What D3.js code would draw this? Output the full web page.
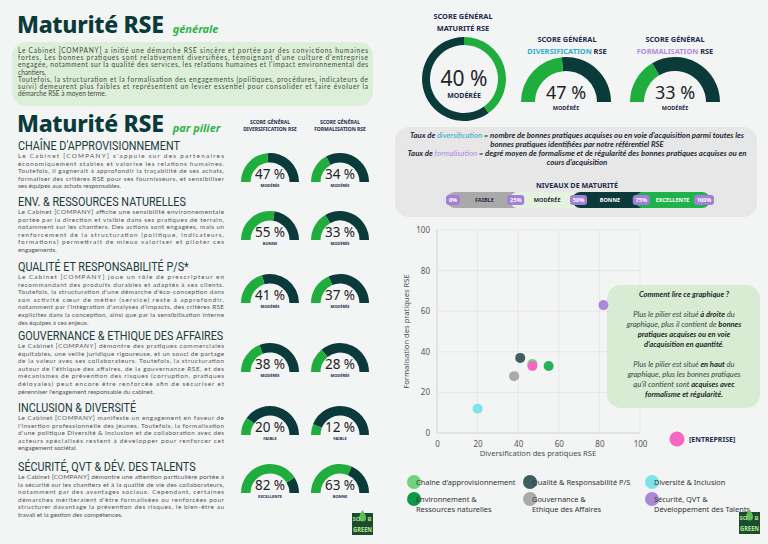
<!DOCTYPE html>
<html>
<head>
<meta charset="utf-8">
<script src="https://cdn.jsdelivr.net/npm/d3@7"></script>
<style>
  body { margin: 0; background: #f3f5f4; }
  svg { display: block; }
  .para { font-family: Lato, "Noto Sans", sans-serif; font-size: 6.4px; fill: #555; }
  .pillar { font-family: Roboto, "Noto Sans", sans-serif; font-size: 12px; font-weight: 400; fill: #1d3a3c; }
  .tick text { font-family: "Noto Sans", sans-serif; font-size: 8px; fill: #555; }
</style>
</head>
<body>
<div id="chart-area"></div>
<script>

// Data

let pillars = ["CHAÎNE D'APPROVISIONNEMENT", "ENV. & RESSOURCES NATURELLES", "QUALITÉ ET RESPONSABILITÉ P/S*",
  "GOUVERNANCE & ETHIQUE DES AFFAIRES", "INCLUSION & DIVERSITÉ", "SÉCURITÉ, QVT & DÉV. DES TALENTS"];
let diversification = [47, 55, 41, 38, 20, 82];
let formalisation = [34, 33, 37, 28, 12, 63];
let divLabels = ["MODÉRÉE", "BONNE", "MODÉRÉE", "MODÉRÉE", "FAIBLE", "EXCELLENTE"];
let formLabels = ["MODÉRÉE", "MODÉRÉE", "MODÉRÉE", "MODÉRÉE", "FAIBLE", "BONNE"];

let generalValues = [40, 47, 33];
let generalLabels = ["MODÉRÉE", "MODÉRÉE", "MODÉRÉE"];
let entreprise = [47, 33];

let legendNames = [["Chaîne d'approvisionnement"], ["Environnement &", "Ressources naturelles"],
  ["Qualité & Responsabilité P/S"], ["Gouvernance &", "Ethique des Affaires"],
  ["Diversité & Inclusion"], ["Sécurité, QVT &", "Développement des Talents"]];
let pointColors = ["#6fd37c", "#24b159", "#3f5d5f", "#a9aaa9", "#80e2ea", "#a98ad8"];
let legendColors = ["#6fd37c", "#0e9a47", "#3f5d5f", "#a9aaa9", "#80e2ea", "#a98ad8"];

let levelNames = ["FAIBLE", "MODÉRÉE", "BONNE", "EXCELLENTE"];
let levelTicks = [0, 25, 50, 75, 100];
let axisTicks = [0, 20, 40, 60, 80, 100];

let generalText = [
  ["Le Cabinet [COMPANY] a initié une démarche RSE sincère et portée par des convictions humaines",
   "fortes. Les bonnes pratiques sont relativement diversifiées, témoignant d'une culture d'entreprise",
   "engagée, notamment sur la qualité des services, les relations humaines et l'impact environnemental des",
   "chantiers."],
  ["Toutefois, la structuration et la formalisation des engagements (politiques, procédures, indicateurs de",
   "suivi) demeurent plus faibles et représentent un levier essentiel pour consolider et faire évoluer la",
   "démarche RSE à moyen terme."]
];

let pillarTexts = [
  ["Le Cabinet [COMPANY] s'appuie sur des partenaires",
   "économiquement stables et valorise les relations humaines.",
   "Toutefois, il gagnerait à approfondir la traçabilité de ses achats,",
   "formaliser des critères RSE pour ses fournisseurs, et sensibiliser",
   "ses équipes aux achats responsables."],
  ["Le Cabinet [COMPANY] affiche une sensibilité environnementale",
   "portée par la direction et visible dans ses pratiques de terrain,",
   "notamment sur les chantiers. Des actions sont engagées, mais un",
   "renforcement de la structuration (politique, indicateurs,",
   "formations) permettrait de mieux valoriser et piloter ces",
   "engagements."],
  ["Le Cabinet [COMPANY] joue un rôle de prescripteur en",
   "recommandant des produits durables et adaptés à ses clients.",
   "Toutefois, la structuration d'une démarche d'éco-conception dans",
   "son activité cœur de métier (service) reste à approfondir,",
   "notamment par l'intégration d'analyses d'impacts, des critères RSE",
   "explicites dans la conception, ainsi que par la sensibilisation interne",
   "des équipes à ces enjeux."],
  ["Le Cabinet [COMPANY] démontre des pratiques commerciales",
   "équitables, une veille juridique rigoureuse, et un souci de partage",
   "de la valeur avec ses collaborateurs. Toutefois, la structuration",
   "autour de l'éthique des affaires, de la gouvernance RSE, et des",
   "mécanismes de prévention des risques (corruption, pratiques",
   "déloyales) peut encore être renforcée afin de sécuriser et",
   "pérenniser l'engagement responsable du cabinet."],
  ["Le Cabinet [COMPANY] manifeste un engagement en faveur de",
   "l'insertion professionnelle des jeunes. Toutefois, la formalisation",
   "d'une politique Diversité & Inclusion et de collaboration avec des",
   "acteurs spécialisés restent à développer pour renforcer cet",
   "engagement sociétal."],
  ["Le Cabinet [COMPANY] démontre une attention particulière portée à",
   "la sécurité sur les chantiers et à la qualité de vie des collaborateurs,",
   "notamment par des avantages sociaux. Cependant, certaines",
   "démarches mériteraient d'être formalisées ou renforcées pour",
   "structurer davantage la prévention des risques, le bien-être au",
   "travail et la gestion des compétences."]
];

let defLines = [
  [["Taux de ", 0], ["diversification", 1], [" = nombre de bonnes pratiques acquises ou en voie d'acquisition parmi toutes les", 0]],
  [["bonnes pratiques identifiées par notre référentiel RSE", 0]],
  [["Taux de ", 0], ["formalisation", 2], [" = degré moyen de formalisme et de régularité des bonnes pratiques acquises ou en", 0]],
  [["cours d'acquisition", 0]]
];

let readLines = [
  [["Comment lire ce graphique ?", 1]],
  [["", 0]],
  [["Plus le pilier est situé ", 0], ["à droite", 1], [" du", 0]],
  [["graphique, plus il contient de ", 0], ["bonnes", 1]],
  [["pratiques acquises ou en voie", 1]],
  [["d'acquisition en quantité", 1], [".", 0]],
  [["", 0]],
  [["Plus le pilier est situé ", 0], ["en haut", 1], [" du", 0]],
  [["graphique, plus les bonnes pratiques", 0]],
  [["qu'il contient sont ", 0], ["acquises avec", 1]],
  [["formalisme et régularité.", 1]]
];

// Colours

let DARK = "#0b3a3b", GREEN = "#1fae3d", NAVY = "#232a4c", CYAN = "#35a9c9", PURPLE = "#b08be0";

// SVG drawing area

let width = 768, height = 544;

let svg = d3.select("#chart-area").append("svg")
    .attr("width", width)
    .attr("height", height);

svg.append("rect").attr("width", width).attr("height", height).attr("fill", "#f3f5f4");

let pct = d3.scaleLinear().domain([0, 100]);

function title(y, main, sub) {
  let t = svg.append("text")
    .attr("x", 17).attr("y", y)
    .attr("font-family", "Noto Sans").attr("font-weight", 800)
    .attr("font-size", 23).attr("letter-spacing", -0.3)
    .attr("fill", DARK).text(main);
  svg.append("text")
    .attr("x", 17 + t.node().getComputedTextLength() + 9).attr("y", y)
    .attr("font-family", "Noto Sans").attr("font-style", "italic").attr("font-weight", 700)
    .attr("font-size", 11).attr("fill", "#2db34a").text(sub);
}

function rich(x, y, parts, size, colors, weights) {
  let t = svg.append("text").attr("x", x).attr("y", y)
    .attr("text-anchor", "middle").attr("font-size", size)
    .attr("font-family", "Lato, sans-serif").attr("font-style", "italic");
  parts.forEach(p => {
    t.append("tspan").attr("fill", colors[p[1]]).attr("font-weight", weights[p[1]]).text(p[0]);
  });
  return t;
}

function gauge(cx, cy, r0, r1, value, label, fsPct, fsLab, dyPct, dyLab, full) {
  let g = svg.append("g").attr("transform", "translate(" + cx + "," + cy + ")");
  let a = full ? pct.copy().range([0, 2 * Math.PI]) : pct.copy().range([-Math.PI / 2, Math.PI / 2]);
  let arc = d3.arc().innerRadius(r0).outerRadius(r1);
  g.append("path").attr("d", arc({startAngle: a(value), endAngle: a(100)})).attr("fill", DARK);
  g.append("path").attr("d", arc({startAngle: a(0), endAngle: a(value)})).attr("fill", GREEN);
  g.append("text").attr("y", dyPct).attr("text-anchor", "middle")
    .attr("font-family", "Noto Sans").attr("font-size", fsPct).attr("fill", "#1f2326")
    .text(value + " %");
  g.append("text").attr("y", dyLab).attr("text-anchor", "middle")
    .attr("font-family", "Noto Sans").attr("font-weight", 700).attr("font-size", fsLab).attr("fill", NAVY)
    .text(label);
}

// two-line score header; second line = [coloured word, rest]
function header(x, y, word, color, rest, size, gap) {
  svg.append("text").attr("x", x).attr("y", y).attr("text-anchor", "middle")
    .attr("font-family", "Noto Sans").attr("font-weight", 700).attr("font-size", size).attr("fill", NAVY)
    .text("SCORE GÉNÉRAL");
  let t2 = svg.append("text").attr("x", x).attr("y", y + gap).attr("text-anchor", "middle")
    .attr("font-family", "Noto Sans").attr("font-weight", 700).attr("font-size", size).attr("fill", NAVY);
  t2.append("tspan").attr("fill", color).text(word);
  t2.append("tspan").text(rest);
}

function logo(x, y) {
  let g = svg.append("g").attr("transform", "translate(" + x + "," + y + ")");
  g.append("rect").attr("width", 21).attr("height", 22).attr("fill", "#1e4a2d");
  g.append("path").attr("d", "M10.5,-3 C13,1 14,3 14,5 A3.5,3.5 0 0 1 7,5 C7,3 8,1 10.5,-3Z").attr("fill", "#5fbf5a");
  g.append("text").attr("x", 4.5).attr("y", 8).attr("text-anchor", "middle").attr("font-family", "Noto Sans")
    .attr("font-weight", 700).attr("font-size", 6).attr("fill", "#a6e08f").text("SO");
  g.append("text").attr("x", 17.5).attr("y", 8).attr("text-anchor", "middle").attr("font-family", "Noto Sans")
    .attr("font-weight", 700).attr("font-size", 6).attr("fill", "#a6e08f").text("B");
  g.append("text").attr("x", 10.5).attr("y", 19).attr("text-anchor", "middle").attr("font-family", "Noto Sans")
    .attr("font-weight", 800).attr("font-size", 7.5).attr("fill", "#a6e08f").attr("textLength", 19)
    .attr("lengthAdjust", "spacingAndGlyphs").text("GREEN");
}

// General maturity (top left)

title(33, "Maturité RSE", "générale");

svg.append("rect").attr("x", 12).attr("y", 42).attr("width", 361).attr("height", 64).attr("rx", 14)
  .attr("fill", "#dcefd8");

let gl = 0;
generalText.forEach(par => {
  par.forEach((line, j) => {
    let t = svg.append("text").attr("class", "para").attr("x", 18).attr("y", 53 + gl * 7.2)
      .style("font-size", "6.6px").style("fill", "#3f4a40").text(line);
    if (j < par.length - 1) t.attr("textLength", 350).attr("lengthAdjust", "spacing");
    gl++;
  });
});

// General scores (top right)

header(463, 19, "MATURITÉ RSE", NAVY, "", 7.4, 12);
gauge(464, 79, 34, 42, generalValues[0], generalLabels[0], 21, 7, 7, 19, true);

header(567, 42, "DIVERSIFICATION", CYAN, " RSE", 7.4, 12);
gauge(566, 102, 31, 45, generalValues[1], generalLabels[1], 18, 5.5, -3, 8, false);

header(675, 42, "FORMALISATION", PURPLE, " RSE", 7.4, 12);
gauge(675, 102, 31, 45, generalValues[2], generalLabels[2], 18, 5.5, -3, 8, false);

// Maturity by pillar (left)

title(132, "Maturité RSE", "par pilier");
header(270, 124, "DIVERSIFICATION RSE", NAVY, "", 5, 7);
header(340, 124, "FORMALISATION RSE", NAVY, "", 5, 7);

let headY = [150, 206, 271, 340, 412, 471];
let gaugeY = [182, 240, 303, 372, 435, 493];

pillars.forEach((p, i) => {
  svg.append("text").attr("class", "pillar")
    .attr("transform", "translate(18," + headY[i] + ") scale(0.9,1)").text(p);
  pillarTexts[i].forEach((line, j) => {
    let t = svg.append("text").attr("class", "para").attr("x", 18).attr("y", headY[i] + 8 + j * 7.6).text(line);
    if (j < pillarTexts[i].length - 1) t.attr("textLength", 206).attr("lengthAdjust", "spacing");
  });
  gauge(270, gaugeY[i], 19.5, 29, diversification[i], divLabels[i], 13.5, 4, -3, 4.5, false);
  gauge(340, gaugeY[i], 19.5, 29, formalisation[i], formLabels[i], 13.5, 4, -3, 4.5, false);
});

logo(352, 513);

// Definitions box + maturity levels

svg.append("rect").attr("x", 395).attr("y", 127).attr("width", 362).attr("height", 90).attr("rx", 14)
  .attr("fill", "#e6e7e6");

defLines.forEach((parts, i) => {
  rich(577, 138 + i * 9, parts, 7.8, ["#1f2b38", CYAN, PURPLE], [700, 400, 400]);
});

svg.append("text").attr("x", 577).attr("y", 188).attr("text-anchor", "middle")
  .attr("font-family", "Noto Sans").attr("font-weight", 700).attr("font-size", 7.2).attr("fill", NAVY)
  .text("NIVEAUX DE MATURITÉ");

let lv = d3.scaleLinear().domain([0, 100]).range([453, 704]);
let levelFill = ["#a9a9a9", "#e3f3df", "#0c3a3b", "#1eb34a"];
let levelText = ["#2d2d3d", "#2d2d3d", "#ffffff", "#ffffff"];

levelNames.forEach((n, i) => {
  svg.append("rect").attr("x", lv(levelTicks[i]) - 6).attr("y", 192)
    .attr("width", lv(levelTicks[i + 1]) - lv(levelTicks[i]) + 12).attr("height", 16).attr("rx", 8)
    .attr("fill", levelFill[i]);
});
levelNames.forEach((n, i) => {
  svg.append("text").attr("x", (lv(levelTicks[i]) + lv(levelTicks[i + 1])) / 2).attr("y", 202)
    .attr("text-anchor", "middle").attr("font-family", "Noto Sans").attr("font-weight", 700)
    .attr("font-size", 5.6).attr("fill", levelText[i]).text(n);
});
levelTicks.forEach(v => {
  let w = v === 100 ? 20 : (v === 0 ? 14 : 17);
  svg.append("rect").attr("x", lv(v) - w / 2).attr("y", 195).attr("width", w).attr("height", 10).attr("rx", 3)
    .attr("fill", "#a47fd8");
  svg.append("text").attr("x", lv(v)).attr("y", 202).attr("text-anchor", "middle")
    .attr("font-family", "Noto Sans").attr("font-weight", 700).attr("font-size", 5.6).attr("fill", "#fff")
    .text(v + "%");
});

// Scatter plot

let x = d3.scaleLinear().domain([0, 100]).range([437, 640]);
let y = d3.scaleLinear().domain([0, 100]).range([433, 230]);

let grid = svg.append("g");
grid.selectAll(".vg").data(axisTicks).enter().append("line")
  .attr("x1", d => x(d)).attr("x2", d => x(d)).attr("y1", y(0)).attr("y2", y(100))
  .attr("stroke", d => d === 0 ? "#c9c9c9" : "#e4e4e4").attr("stroke-width", 0.8);
grid.selectAll(".hg").data(axisTicks).enter().append("line")
  .attr("x1", x(0)).attr("x2", x(100)).attr("y1", d => y(d)).attr("y2", d => y(d))
  .attr("stroke", d => d === 0 ? "#c9c9c9" : "#e4e4e4").attr("stroke-width", 0.8);

let xAxisG = svg.append("g").attr("transform", "translate(0," + y(0) + ")")
  .call(d3.axisBottom(x).tickValues(axisTicks).tickSize(0).tickPadding(8));
let yAxisG = svg.append("g").attr("transform", "translate(" + x(0) + ",0)")
  .call(d3.axisLeft(y).tickValues(axisTicks).tickSize(0).tickPadding(7));
xAxisG.select(".domain").remove();
yAxisG.select(".domain").remove();

svg.append("text").attr("x", 538).attr("y", 456).attr("text-anchor", "middle")
  .attr("font-family", "Noto Sans").attr("font-size", 7.6).attr("fill", "#4a4f55")
  .text("Diversification des pratiques RSE");
svg.append("text").attr("transform", "translate(409," + y(50) + ") rotate(-90)").attr("text-anchor", "middle")
  .attr("font-family", "Noto Sans").attr("font-size", 7.6).attr("fill", "#4a4f55")
  .text("Formalisation des pratiques RSE");

// how-to box
svg.append("rect").attr("x", 607).attr("y", 285).attr("width", 153).attr("height", 123).attr("rx", 14)
  .attr("fill", "#d4ebcf").attr("opacity", 0.9);
readLines.forEach((parts, i) => {
  rich(684, 297 + i * 10, parts, 7.6, ["#3a4a48", "#1d2b2b"], [400, 700]);
});

svg.selectAll(".pt").data(pillars).enter().append("circle")
  .attr("cx", (d, i) => x(diversification[i]))
  .attr("cy", (d, i) => y(formalisation[i]))
  .attr("r", 5)
  .attr("fill", (d, i) => pointColors[i]);
svg.append("circle").attr("cx", x(entreprise[0])).attr("cy", y(entreprise[1])).attr("r", 5).attr("fill", "#f666c2");

svg.append("circle").attr("cx", 677).attr("cy", 439).attr("r", 7.5).attr("fill", "#f666c2");
svg.append("text").attr("x", 689).attr("y", 442).attr("font-family", "Noto Sans").attr("font-weight", 700)
  .attr("font-size", 7).attr("fill", NAVY).text("[ENTREPRISE]");

// Legend

let legX = [414, 530, 652];
let legY = [482, 499];
legendNames.forEach((lines, k) => {
  let cx = legX[Math.floor(k / 2)], cy = legY[k % 2];
  svg.append("circle").attr("cx", cx).attr("cy", cy).attr("r", 7).attr("fill", legendColors[k]);
  lines.forEach((line, j) => {
    svg.append("text").attr("x", cx + 2).attr("y", cy + 2.5 + j * 10.5)
      .attr("font-family", "Noto Sans").attr("font-size", 7.4).attr("fill", "#333")
      .text(line);
  });
});

logo(739, 512);

</script>
</body>
</html>
